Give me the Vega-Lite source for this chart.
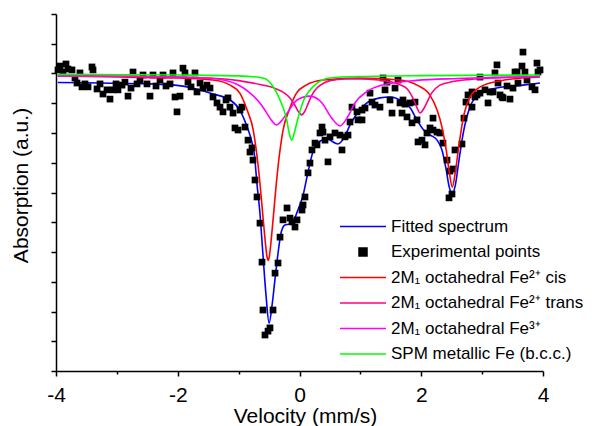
{
  "$schema": "https://vega.github.io/schema/vega-lite/v6.json",
  "width": 487,
  "height": 357,
  "autosize": {"type": "none"},
  "padding": {"left": 56, "top": 14, "right": 49, "bottom": 55},
  "background": "white",
  "config": {
    "view": {"stroke": null},
    "font": "Liberation Sans",
    "axis": {"grid": false, "domainColor": "black", "tickColor": "black", "domainWidth": 1.5, "tickWidth": 1.5, "labelColor": "black", "titleColor": "black", "labelFont": "Liberation Sans", "titleFont": "Liberation Sans", "labelFontSize": 21, "titleFontSize": 21, "titleFontWeight": "normal"}
  },
  "datasets": {
    "curves": [
      {"series": "Fitted spectrum", "v": -3.97, "y": 9.7},
      {"series": "Fitted spectrum", "v": -3.28, "y": 9.68},
      {"series": "Fitted spectrum", "v": -2.46, "y": 9.65},
      {"series": "Fitted spectrum", "v": -2.05, "y": 9.61},
      {"series": "Fitted spectrum", "v": -1.76, "y": 9.51},
      {"series": "Fitted spectrum", "v": -1.42, "y": 9.31},
      {"series": "Fitted spectrum", "v": -1.14, "y": 9.11},
      {"series": "Fitted spectrum", "v": -0.98, "y": 8.77},
      {"series": "Fitted spectrum", "v": -0.86, "y": 8.2},
      {"series": "Fitted spectrum", "v": -0.79, "y": 7.76},
      {"series": "Fitted spectrum", "v": -0.74, "y": 7.26},
      {"series": "Fitted spectrum", "v": -0.7, "y": 6.32},
      {"series": "Fitted spectrum", "v": -0.65, "y": 5.31},
      {"series": "Fitted spectrum", "v": -0.6, "y": 3.9},
      {"series": "Fitted spectrum", "v": -0.55, "y": 2.55},
      {"series": "Fitted spectrum", "v": -0.5, "y": 1.61},
      {"series": "Fitted spectrum", "v": -0.45, "y": 2.22},
      {"series": "Fitted spectrum", "v": -0.4, "y": 3.13},
      {"series": "Fitted spectrum", "v": -0.35, "y": 4.0},
      {"series": "Fitted spectrum", "v": -0.3, "y": 4.67},
      {"series": "Fitted spectrum", "v": -0.24, "y": 4.91},
      {"series": "Fitted spectrum", "v": -0.16, "y": 4.94},
      {"series": "Fitted spectrum", "v": -0.09, "y": 5.08},
      {"series": "Fitted spectrum", "v": -0.04, "y": 5.34},
      {"series": "Fitted spectrum", "v": 0.06, "y": 5.92},
      {"series": "Fitted spectrum", "v": 0.14, "y": 6.69},
      {"series": "Fitted spectrum", "v": 0.22, "y": 7.36},
      {"series": "Fitted spectrum", "v": 0.34, "y": 7.73},
      {"series": "Fitted spectrum", "v": 0.45, "y": 7.8},
      {"series": "Fitted spectrum", "v": 0.63, "y": 7.63},
      {"series": "Fitted spectrum", "v": 0.74, "y": 7.87},
      {"series": "Fitted spectrum", "v": 0.83, "y": 8.27},
      {"series": "Fitted spectrum", "v": 0.94, "y": 8.64},
      {"series": "Fitted spectrum", "v": 1.04, "y": 8.9},
      {"series": "Fitted spectrum", "v": 1.32, "y": 9.18},
      {"series": "Fitted spectrum", "v": 1.49, "y": 9.21},
      {"series": "Fitted spectrum", "v": 1.65, "y": 9.11},
      {"series": "Fitted spectrum", "v": 1.82, "y": 8.84},
      {"series": "Fitted spectrum", "v": 1.93, "y": 8.44},
      {"series": "Fitted spectrum", "v": 2.04, "y": 8.1},
      {"series": "Fitted spectrum", "v": 2.15, "y": 7.93},
      {"series": "Fitted spectrum", "v": 2.26, "y": 7.76},
      {"series": "Fitted spectrum", "v": 2.34, "y": 7.43},
      {"series": "Fitted spectrum", "v": 2.41, "y": 6.76},
      {"series": "Fitted spectrum", "v": 2.46, "y": 6.18},
      {"series": "Fitted spectrum", "v": 2.51, "y": 5.95},
      {"series": "Fitted spectrum", "v": 2.56, "y": 6.25},
      {"series": "Fitted spectrum", "v": 2.62, "y": 7.09},
      {"series": "Fitted spectrum", "v": 2.69, "y": 8.0},
      {"series": "Fitted spectrum", "v": 2.8, "y": 8.87},
      {"series": "Fitted spectrum", "v": 2.97, "y": 9.34},
      {"series": "Fitted spectrum", "v": 3.24, "y": 9.51},
      {"series": "Fitted spectrum", "v": 3.67, "y": 9.61},
      {"series": "Fitted spectrum", "v": 3.95, "y": 9.68},

      {"series": "2M₁ octahedral Fe²⁺ cis", "v": -3.97, "y": 9.92},
      {"series": "2M₁ octahedral Fe²⁺ cis", "v": -2.95, "y": 9.88},
      {"series": "2M₁ octahedral Fe²⁺ cis", "v": -2.0, "y": 9.85},
      {"series": "2M₁ octahedral Fe²⁺ cis", "v": -1.42, "y": 9.78},
      {"series": "2M₁ octahedral Fe²⁺ cis", "v": -1.14, "y": 9.61},
      {"series": "2M₁ octahedral Fe²⁺ cis", "v": -0.98, "y": 9.34},
      {"series": "2M₁ octahedral Fe²⁺ cis", "v": -0.86, "y": 8.77},
      {"series": "2M₁ octahedral Fe²⁺ cis", "v": -0.76, "y": 8.1},
      {"series": "2M₁ octahedral Fe²⁺ cis", "v": -0.7, "y": 7.26},
      {"series": "2M₁ octahedral Fe²⁺ cis", "v": -0.65, "y": 6.32},
      {"series": "2M₁ octahedral Fe²⁺ cis", "v": -0.6, "y": 5.18},
      {"series": "2M₁ octahedral Fe²⁺ cis", "v": -0.56, "y": 4.3},
      {"series": "2M₁ octahedral Fe²⁺ cis", "v": -0.535, "y": 3.85},
      {"series": "2M₁ octahedral Fe²⁺ cis", "v": -0.515, "y": 3.72},
      {"series": "2M₁ octahedral Fe²⁺ cis", "v": -0.495, "y": 3.85},
      {"series": "2M₁ octahedral Fe²⁺ cis", "v": -0.47, "y": 4.3},
      {"series": "2M₁ octahedral Fe²⁺ cis", "v": -0.43, "y": 5.18},
      {"series": "2M₁ octahedral Fe²⁺ cis", "v": -0.38, "y": 6.32},
      {"series": "2M₁ octahedral Fe²⁺ cis", "v": -0.33, "y": 7.26},
      {"series": "2M₁ octahedral Fe²⁺ cis", "v": -0.27, "y": 8.1},
      {"series": "2M₁ octahedral Fe²⁺ cis", "v": -0.17, "y": 8.77},
      {"series": "2M₁ octahedral Fe²⁺ cis", "v": -0.05, "y": 9.34},
      {"series": "2M₁ octahedral Fe²⁺ cis", "v": 0.11, "y": 9.61},
      {"series": "2M₁ octahedral Fe²⁺ cis", "v": 0.385, "y": 9.78},
      {"series": "2M₁ octahedral Fe²⁺ cis", "v": 0.99, "y": 9.85},
      {"series": "2M₁ octahedral Fe²⁺ cis", "v": 1.65, "y": 9.78},
      {"series": "2M₁ octahedral Fe²⁺ cis", "v": 1.93, "y": 9.61},
      {"series": "2M₁ octahedral Fe²⁺ cis", "v": 2.14, "y": 9.28},
      {"series": "2M₁ octahedral Fe²⁺ cis", "v": 2.26, "y": 8.77},
      {"series": "2M₁ octahedral Fe²⁺ cis", "v": 2.34, "y": 8.2},
      {"series": "2M₁ octahedral Fe²⁺ cis", "v": 2.41, "y": 7.43},
      {"series": "2M₁ octahedral Fe²⁺ cis", "v": 2.46, "y": 6.69},
      {"series": "2M₁ octahedral Fe²⁺ cis", "v": 2.51, "y": 6.18},
      {"series": "2M₁ octahedral Fe²⁺ cis", "v": 2.56, "y": 6.69},
      {"series": "2M₁ octahedral Fe²⁺ cis", "v": 2.62, "y": 7.6},
      {"series": "2M₁ octahedral Fe²⁺ cis", "v": 2.7, "y": 8.61},
      {"series": "2M₁ octahedral Fe²⁺ cis", "v": 2.8, "y": 9.21},
      {"series": "2M₁ octahedral Fe²⁺ cis", "v": 2.97, "y": 9.55},
      {"series": "2M₁ octahedral Fe²⁺ cis", "v": 3.29, "y": 9.75},
      {"series": "2M₁ octahedral Fe²⁺ cis", "v": 3.67, "y": 9.85},
      {"series": "2M₁ octahedral Fe²⁺ cis", "v": 3.95, "y": 9.88},

      {"series": "2M₁ octahedral Fe²⁺ trans", "v": -3.97, "y": 9.93},
      {"series": "2M₁ octahedral Fe²⁺ trans", "v": -2.5, "y": 9.9},
      {"series": "2M₁ octahedral Fe²⁺ trans", "v": -1.5, "y": 9.85},
      {"series": "2M₁ octahedral Fe²⁺ trans", "v": -1.0, "y": 9.76},
      {"series": "2M₁ octahedral Fe²⁺ trans", "v": -0.65, "y": 9.63},
      {"series": "2M₁ octahedral Fe²⁺ trans", "v": -0.4, "y": 9.5},
      {"series": "2M₁ octahedral Fe²⁺ trans", "v": -0.25, "y": 9.35},
      {"series": "2M₁ octahedral Fe²⁺ trans", "v": -0.156, "y": 9.18},
      {"series": "2M₁ octahedral Fe²⁺ trans", "v": -0.08, "y": 8.95},
      {"series": "2M₁ octahedral Fe²⁺ trans", "v": -0.02, "y": 8.72},
      {"series": "2M₁ octahedral Fe²⁺ trans", "v": 0.036, "y": 8.61},
      {"series": "2M₁ octahedral Fe²⁺ trans", "v": 0.09, "y": 8.74},
      {"series": "2M₁ octahedral Fe²⁺ trans", "v": 0.14, "y": 8.98},
      {"series": "2M₁ octahedral Fe²⁺ trans", "v": 0.21, "y": 9.3},
      {"series": "2M₁ octahedral Fe²⁺ trans", "v": 0.29, "y": 9.52},
      {"series": "2M₁ octahedral Fe²⁺ trans", "v": 0.4, "y": 9.68},
      {"series": "2M₁ octahedral Fe²⁺ trans", "v": 0.5, "y": 9.76},
      {"series": "2M₁ octahedral Fe²⁺ trans", "v": 0.75, "y": 9.82},
      {"series": "2M₁ octahedral Fe²⁺ trans", "v": 1.0, "y": 9.82},
      {"series": "2M₁ octahedral Fe²⁺ trans", "v": 1.3, "y": 9.78},
      {"series": "2M₁ octahedral Fe²⁺ trans", "v": 1.5, "y": 9.72},
      {"series": "2M₁ octahedral Fe²⁺ trans", "v": 1.65, "y": 9.62},
      {"series": "2M₁ octahedral Fe²⁺ trans", "v": 1.77, "y": 9.48},
      {"series": "2M₁ octahedral Fe²⁺ trans", "v": 1.88, "y": 9.1},
      {"series": "2M₁ octahedral Fe²⁺ trans", "v": 1.94, "y": 8.8},
      {"series": "2M₁ octahedral Fe²⁺ trans", "v": 1.98, "y": 8.67},
      {"series": "2M₁ octahedral Fe²⁺ trans", "v": 2.03, "y": 8.78},
      {"series": "2M₁ octahedral Fe²⁺ trans", "v": 2.08, "y": 8.97},
      {"series": "2M₁ octahedral Fe²⁺ trans", "v": 2.17, "y": 9.34},
      {"series": "2M₁ octahedral Fe²⁺ trans", "v": 2.3, "y": 9.6},
      {"series": "2M₁ octahedral Fe²⁺ trans", "v": 2.5, "y": 9.72},
      {"series": "2M₁ octahedral Fe²⁺ trans", "v": 2.8, "y": 9.8},
      {"series": "2M₁ octahedral Fe²⁺ trans", "v": 3.3, "y": 9.86},
      {"series": "2M₁ octahedral Fe²⁺ trans", "v": 3.95, "y": 9.9},

      {"series": "2M₁ octahedral Fe³⁺", "v": -3.97, "y": 9.92},
      {"series": "2M₁ octahedral Fe³⁺", "v": -2.95, "y": 9.91},
      {"series": "2M₁ octahedral Fe³⁺", "v": -1.96, "y": 9.88},
      {"series": "2M₁ octahedral Fe³⁺", "v": -1.42, "y": 9.83},
      {"series": "2M₁ octahedral Fe³⁺", "v": -1.02, "y": 9.63},
      {"series": "2M₁ octahedral Fe³⁺", "v": -0.81, "y": 9.34},
      {"series": "2M₁ octahedral Fe³⁺", "v": -0.65, "y": 9.01},
      {"series": "2M₁ octahedral Fe³⁺", "v": -0.55, "y": 8.71},
      {"series": "2M₁ octahedral Fe³⁺", "v": -0.45, "y": 8.4},
      {"series": "2M₁ octahedral Fe³⁺", "v": -0.375, "y": 8.27},
      {"series": "2M₁ octahedral Fe³⁺", "v": -0.3, "y": 8.4},
      {"series": "2M₁ octahedral Fe³⁺", "v": -0.19, "y": 8.71},
      {"series": "2M₁ octahedral Fe³⁺", "v": -0.04, "y": 9.11},
      {"series": "2M₁ octahedral Fe³⁺", "v": 0.17, "y": 9.24},
      {"series": "2M₁ octahedral Fe³⁺", "v": 0.37, "y": 9.01},
      {"series": "2M₁ octahedral Fe³⁺", "v": 0.53, "y": 8.5},
      {"series": "2M₁ octahedral Fe³⁺", "v": 0.665, "y": 8.24},
      {"series": "2M₁ octahedral Fe³⁺", "v": 0.8, "y": 8.57},
      {"series": "2M₁ octahedral Fe³⁺", "v": 0.91, "y": 9.01},
      {"series": "2M₁ octahedral Fe³⁺", "v": 1.1, "y": 9.38},
      {"series": "2M₁ octahedral Fe³⁺", "v": 1.36, "y": 9.61},
      {"series": "2M₁ octahedral Fe³⁺", "v": 1.92, "y": 9.77},
      {"series": "2M₁ octahedral Fe³⁺", "v": 2.6, "y": 9.83},
      {"series": "2M₁ octahedral Fe³⁺", "v": 3.3, "y": 9.87},
      {"series": "2M₁ octahedral Fe³⁺", "v": 3.95, "y": 9.9},

      {"series": "SPM metallic Fe (b.c.c.)", "v": -3.97, "y": 9.97},
      {"series": "SPM metallic Fe (b.c.c.)", "v": -2.0, "y": 9.95},
      {"series": "SPM metallic Fe (b.c.c.)", "v": -1.0, "y": 9.92},
      {"series": "SPM metallic Fe (b.c.c.)", "v": -0.6, "y": 9.85},
      {"series": "SPM metallic Fe (b.c.c.)", "v": -0.44, "y": 9.58},
      {"series": "SPM metallic Fe (b.c.c.)", "v": -0.32, "y": 9.11},
      {"series": "SPM metallic Fe (b.c.c.)", "v": -0.21, "y": 8.44},
      {"series": "SPM metallic Fe (b.c.c.)", "v": -0.168, "y": 7.98},
      {"series": "SPM metallic Fe (b.c.c.)", "v": -0.128, "y": 7.76},
      {"series": "SPM metallic Fe (b.c.c.)", "v": -0.088, "y": 7.98},
      {"series": "SPM metallic Fe (b.c.c.)", "v": -0.04, "y": 8.38},
      {"series": "SPM metallic Fe (b.c.c.)", "v": 0.07, "y": 9.11},
      {"series": "SPM metallic Fe (b.c.c.)", "v": 0.17, "y": 9.44},
      {"series": "SPM metallic Fe (b.c.c.)", "v": 0.29, "y": 9.68},
      {"series": "SPM metallic Fe (b.c.c.)", "v": 0.5, "y": 9.85},
      {"series": "SPM metallic Fe (b.c.c.)", "v": 1.0, "y": 9.9},
      {"series": "SPM metallic Fe (b.c.c.)", "v": 2.0, "y": 9.93},
      {"series": "SPM metallic Fe (b.c.c.)", "v": 3.95, "y": 9.95}
    ],
    "points": [
      {"series": "Experimental points", "v": -3.967, "y": 10.12},
      {"series": "Experimental points", "v": -3.934, "y": 10.25},
      {"series": "Experimental points", "v": -3.885, "y": 10.05},
      {"series": "Experimental points", "v": -3.836, "y": 10.32},
      {"series": "Experimental points", "v": -3.803, "y": 10.15},
      {"series": "Experimental points", "v": -3.737, "y": 10.12},
      {"series": "Experimental points", "v": -3.688, "y": 9.85},
      {"series": "Experimental points", "v": -3.655, "y": 9.68},
      {"series": "Experimental points", "v": -3.606, "y": 10.02},
      {"series": "Experimental points", "v": -3.573, "y": 9.55},
      {"series": "Experimental points", "v": -3.524, "y": 9.65},
      {"series": "Experimental points", "v": -3.474, "y": 9.55},
      {"series": "Experimental points", "v": -3.409, "y": 10.22},
      {"series": "Experimental points", "v": -3.392, "y": 10.12},
      {"series": "Experimental points", "v": -3.326, "y": 9.48},
      {"series": "Experimental points", "v": -3.277, "y": 9.65},
      {"series": "Experimental points", "v": -3.228, "y": 9.31},
      {"series": "Experimental points", "v": -3.162, "y": 9.45},
      {"series": "Experimental points", "v": -3.113, "y": 9.14},
      {"series": "Experimental points", "v": -3.064, "y": 9.45},
      {"series": "Experimental points", "v": -3.014, "y": 9.65},
      {"series": "Experimental points", "v": -2.982, "y": 9.45},
      {"series": "Experimental points", "v": -2.916, "y": 9.61},
      {"series": "Experimental points", "v": -2.867, "y": 9.71},
      {"series": "Experimental points", "v": -2.817, "y": 9.24},
      {"series": "Experimental points", "v": -2.768, "y": 9.51},
      {"series": "Experimental points", "v": -2.735, "y": 10.05},
      {"series": "Experimental points", "v": -2.669, "y": 9.65},
      {"series": "Experimental points", "v": -2.62, "y": 9.78},
      {"series": "Experimental points", "v": -2.571, "y": 9.95},
      {"series": "Experimental points", "v": -2.505, "y": 9.65},
      {"series": "Experimental points", "v": -2.456, "y": 9.24},
      {"series": "Experimental points", "v": -2.407, "y": 9.95},
      {"series": "Experimental points", "v": -2.357, "y": 9.58},
      {"series": "Experimental points", "v": -2.292, "y": 9.78},
      {"series": "Experimental points", "v": -2.242, "y": 9.95},
      {"series": "Experimental points", "v": -2.193, "y": 9.58},
      {"series": "Experimental points", "v": -2.127, "y": 9.65},
      {"series": "Experimental points", "v": -2.078, "y": 10.02},
      {"series": "Experimental points", "v": -2.045, "y": 9.21},
      {"series": "Experimental points", "v": -2.012, "y": 8.71},
      {"series": "Experimental points", "v": -1.963, "y": 9.24},
      {"series": "Experimental points", "v": -1.914, "y": 10.18},
      {"series": "Experimental points", "v": -1.881, "y": 10.02},
      {"series": "Experimental points", "v": -1.832, "y": 9.71},
      {"series": "Experimental points", "v": -1.782, "y": 9.55},
      {"series": "Experimental points", "v": -1.717, "y": 10.02},
      {"series": "Experimental points", "v": -1.684, "y": 9.38},
      {"series": "Experimental points", "v": -1.634, "y": 9.68},
      {"series": "Experimental points", "v": -1.585, "y": 9.51},
      {"series": "Experimental points", "v": -1.52, "y": 9.61},
      {"series": "Experimental points", "v": -1.47, "y": 9.51},
      {"series": "Experimental points", "v": -1.421, "y": 9.21},
      {"series": "Experimental points", "v": -1.355, "y": 9.01},
      {"series": "Experimental points", "v": -1.306, "y": 8.87},
      {"series": "Experimental points", "v": -1.257, "y": 8.71},
      {"series": "Experimental points", "v": -1.207, "y": 9.11},
      {"series": "Experimental points", "v": -1.175, "y": 9.18},
      {"series": "Experimental points", "v": -1.142, "y": 8.87},
      {"series": "Experimental points", "v": -1.092, "y": 8.67},
      {"series": "Experimental points", "v": -1.06, "y": 8.17},
      {"series": "Experimental points", "v": -1.01, "y": 8.1},
      {"series": "Experimental points", "v": -0.977, "y": 8.77},
      {"series": "Experimental points", "v": -0.945, "y": 8.87},
      {"series": "Experimental points", "v": -0.895, "y": 8.2},
      {"series": "Experimental points", "v": -0.846, "y": 7.76},
      {"series": "Experimental points", "v": -0.813, "y": 7.36},
      {"series": "Experimental points", "v": -0.78, "y": 7.5},
      {"series": "Experimental points", "v": -0.764, "y": 7.09},
      {"series": "Experimental points", "v": -0.731, "y": 6.42},
      {"series": "Experimental points", "v": -0.698, "y": 5.85},
      {"series": "Experimental points", "v": -0.649, "y": 4.97},
      {"series": "Experimental points", "v": -0.616, "y": 3.66},
      {"series": "Experimental points", "v": -0.6, "y": 2.05},
      {"series": "Experimental points", "v": -0.567, "y": 1.21},
      {"series": "Experimental points", "v": -0.517, "y": 1.34},
      {"series": "Experimental points", "v": -0.485, "y": 1.45},
      {"series": "Experimental points", "v": -0.435, "y": 2.05},
      {"series": "Experimental points", "v": -0.402, "y": 3.29},
      {"series": "Experimental points", "v": -0.353, "y": 3.63},
      {"series": "Experimental points", "v": -0.32, "y": 4.5},
      {"series": "Experimental points", "v": -0.271, "y": 5.08},
      {"series": "Experimental points", "v": -0.205, "y": 5.48},
      {"series": "Experimental points", "v": -0.156, "y": 5.14},
      {"series": "Experimental points", "v": -0.123, "y": 5.01},
      {"series": "Experimental points", "v": -0.074, "y": 4.84},
      {"series": "Experimental points", "v": -0.041, "y": 5.08},
      {"series": "Experimental points", "v": 0.041, "y": 5.41},
      {"series": "Experimental points", "v": 0.058, "y": 5.58},
      {"series": "Experimental points", "v": 0.09, "y": 5.85},
      {"series": "Experimental points", "v": 0.14, "y": 6.66},
      {"series": "Experimental points", "v": 0.172, "y": 6.99},
      {"series": "Experimental points", "v": 0.205, "y": 7.43},
      {"series": "Experimental points", "v": 0.255, "y": 7.66},
      {"series": "Experimental points", "v": 0.287, "y": 7.6},
      {"series": "Experimental points", "v": 0.337, "y": 8.0},
      {"series": "Experimental points", "v": 0.37, "y": 8.2},
      {"series": "Experimental points", "v": 0.386, "y": 8.03},
      {"series": "Experimental points", "v": 0.419, "y": 7.76},
      {"series": "Experimental points", "v": 0.468, "y": 7.03},
      {"series": "Experimental points", "v": 0.501, "y": 7.87},
      {"series": "Experimental points", "v": 0.583, "y": 8.0},
      {"series": "Experimental points", "v": 0.665, "y": 7.93},
      {"series": "Experimental points", "v": 0.698, "y": 7.43},
      {"series": "Experimental points", "v": 0.747, "y": 7.87},
      {"series": "Experimental points", "v": 0.797, "y": 7.93},
      {"series": "Experimental points", "v": 0.83, "y": 8.37},
      {"series": "Experimental points", "v": 0.862, "y": 8.87},
      {"series": "Experimental points", "v": 0.945, "y": 8.71},
      {"series": "Experimental points", "v": 0.961, "y": 8.44},
      {"series": "Experimental points", "v": 1.027, "y": 8.44},
      {"series": "Experimental points", "v": 1.027, "y": 8.77},
      {"series": "Experimental points", "v": 1.076, "y": 8.84},
      {"series": "Experimental points", "v": 1.158, "y": 9.34},
      {"series": "Experimental points", "v": 1.191, "y": 9.04},
      {"series": "Experimental points", "v": 1.24, "y": 8.94},
      {"series": "Experimental points", "v": 1.322, "y": 8.87},
      {"series": "Experimental points", "v": 1.372, "y": 9.85},
      {"series": "Experimental points", "v": 1.405, "y": 9.45},
      {"series": "Experimental points", "v": 1.437, "y": 9.71},
      {"series": "Experimental points", "v": 1.487, "y": 9.11},
      {"series": "Experimental points", "v": 1.52, "y": 8.67},
      {"series": "Experimental points", "v": 1.569, "y": 9.51},
      {"series": "Experimental points", "v": 1.618, "y": 9.78},
      {"series": "Experimental points", "v": 1.651, "y": 9.01},
      {"series": "Experimental points", "v": 1.684, "y": 8.67},
      {"series": "Experimental points", "v": 1.7, "y": 9.11},
      {"series": "Experimental points", "v": 1.733, "y": 8.97},
      {"series": "Experimental points", "v": 1.766, "y": 8.54},
      {"series": "Experimental points", "v": 1.815, "y": 9.01},
      {"series": "Experimental points", "v": 1.848, "y": 8.34},
      {"series": "Experimental points", "v": 1.897, "y": 9.04},
      {"series": "Experimental points", "v": 1.93, "y": 8.44},
      {"series": "Experimental points", "v": 1.947, "y": 7.7},
      {"series": "Experimental points", "v": 2.012, "y": 7.76},
      {"series": "Experimental points", "v": 2.062, "y": 7.6},
      {"series": "Experimental points", "v": 2.094, "y": 8.0},
      {"series": "Experimental points", "v": 2.144, "y": 8.17},
      {"series": "Experimental points", "v": 2.193, "y": 8.5},
      {"series": "Experimental points", "v": 2.193, "y": 8.1},
      {"series": "Experimental points", "v": 2.259, "y": 8.03},
      {"series": "Experimental points", "v": 2.308, "y": 8.0},
      {"series": "Experimental points", "v": 2.357, "y": 7.66},
      {"series": "Experimental points", "v": 2.423, "y": 7.09},
      {"series": "Experimental points", "v": 2.472, "y": 6.72},
      {"series": "Experimental points", "v": 2.522, "y": 6.79},
      {"series": "Experimental points", "v": 2.456, "y": 5.82},
      {"series": "Experimental points", "v": 2.505, "y": 5.95},
      {"series": "Experimental points", "v": 2.554, "y": 7.43},
      {"series": "Experimental points", "v": 2.669, "y": 7.63},
      {"series": "Experimental points", "v": 2.702, "y": 8.5},
      {"series": "Experimental points", "v": 2.735, "y": 9.04},
      {"series": "Experimental points", "v": 2.768, "y": 9.28},
      {"series": "Experimental points", "v": 2.834, "y": 9.38},
      {"series": "Experimental points", "v": 2.834, "y": 8.87},
      {"series": "Experimental points", "v": 2.883, "y": 9.21},
      {"series": "Experimental points", "v": 2.916, "y": 9.28},
      {"series": "Experimental points", "v": 2.965, "y": 9.88},
      {"series": "Experimental points", "v": 2.965, "y": 9.34},
      {"series": "Experimental points", "v": 3.047, "y": 9.45},
      {"series": "Experimental points", "v": 3.097, "y": 9.01},
      {"series": "Experimental points", "v": 3.129, "y": 9.38},
      {"series": "Experimental points", "v": 3.179, "y": 9.38},
      {"series": "Experimental points", "v": 3.211, "y": 10.02},
      {"series": "Experimental points", "v": 3.244, "y": 10.29},
      {"series": "Experimental points", "v": 3.261, "y": 9.68},
      {"series": "Experimental points", "v": 3.294, "y": 9.28},
      {"series": "Experimental points", "v": 3.326, "y": 9.21},
      {"series": "Experimental points", "v": 3.343, "y": 9.18},
      {"series": "Experimental points", "v": 3.409, "y": 9.58},
      {"series": "Experimental points", "v": 3.458, "y": 9.14},
      {"series": "Experimental points", "v": 3.507, "y": 9.51},
      {"series": "Experimental points", "v": 3.54, "y": 10.05},
      {"series": "Experimental points", "v": 3.573, "y": 10.05},
      {"series": "Experimental points", "v": 3.589, "y": 9.68},
      {"series": "Experimental points", "v": 3.655, "y": 10.25},
      {"series": "Experimental points", "v": 3.671, "y": 10.72},
      {"series": "Experimental points", "v": 3.704, "y": 10.05},
      {"series": "Experimental points", "v": 3.737, "y": 9.78},
      {"series": "Experimental points", "v": 3.819, "y": 9.55},
      {"series": "Experimental points", "v": 3.869, "y": 9.45},
      {"series": "Experimental points", "v": 3.901, "y": 10.35},
      {"series": "Experimental points", "v": 3.918, "y": 10.05},
      {"series": "Experimental points", "v": 3.951, "y": 10.12}
    ]
  },
  "encoding": {
    "x": {"field": "v", "type": "quantitative",
      "scale": {"domain": [-4, 4], "nice": false, "zero": false},
      "axis": {"title": "Velocity (mm/s)", "values": [-4, -3, -2, -1, 0, 1, 2, 3, 4],
        "labelExpr": "datum.value % 2 === 0 ? '' + datum.value : ''",
        "tickSize": {"condition": {"test": "datum.value % 2 === 0", "value": 5}, "value": 3},
        "labelPadding": 8, "titlePadding": 0, "titleX": 249, "labelFlush": false, "labelOverlap": false}},
    "y": {"field": "y", "type": "quantitative",
      "scale": {"domain": [0, 12], "nice": false, "zero": false},
      "axis": {"title": "Absorption (a.u.)", "values": [0, 1, 2, 3, 4, 5, 6, 7, 8, 9, 10, 11, 12],
        "labels": false, "tickSize": 5, "titlePadding": 19, "titleY": 171}},
    "color": {"field": "series", "type": "nominal",
      "scale": {"domain": ["Fitted spectrum", "Experimental points", "2M₁ octahedral Fe²⁺ cis", "2M₁ octahedral Fe²⁺ trans", "2M₁ octahedral Fe³⁺", "SPM metallic Fe (b.c.c.)"],
        "range": ["#0000FF", "#000000", "#FF0000", "#FF0080", "#FF00FF", "#00FF00"]},
      "legend": {"title": null, "orient": "none", "legendX": 284, "legendY": 204, "padding": 0,
        "labelFont": "Liberation Sans", "labelFontSize": 17, "labelColor": "black", "labelLimit": 400,
        "symbolSize": 64, "labelOffset": 34, "rowPadding": 7.5,
        "encode": {"symbols": {"update": {
          "x": {"value": 23},
          "shape": {"signal": "datum.value === 'Experimental points' ? 'square' : 'M-5.75,0L5.75,0'"},
          "fill": {"signal": "datum.value === 'Experimental points' ? '#000000' : 'transparent'"},
          "stroke": {"signal": "datum.value === 'Experimental points' ? 'transparent' : scale('color', datum.value)"},
          "strokeWidth": {"value": 1.5},
          "opacity": {"value": 1}}}}}}
  },
  "layer": [
    {"data": {"name": "curves"}, "transform": [{"filter": "datum.series === 'Fitted spectrum'"}],
      "mark": {"type": "line", "strokeWidth": 1.6, "interpolate": "monotone"}},
    {"data": {"name": "points"},
      "mark": {"type": "point", "shape": "square", "filled": true, "size": 45, "opacity": 1}},
    {"data": {"name": "curves"}, "transform": [{"filter": "datum.series !== 'Fitted spectrum'"}],
      "mark": {"type": "line", "strokeWidth": 1.6, "interpolate": "monotone"}}
  ]
}
